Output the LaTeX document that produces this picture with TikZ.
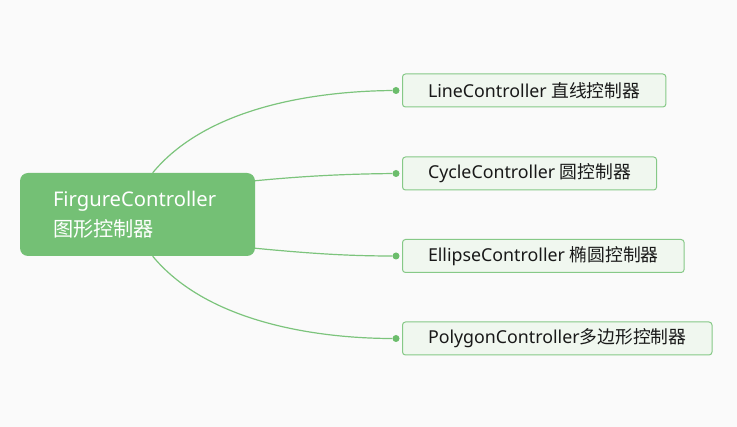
\documentclass[tikz,border=0pt]{standalone}
\usepackage{fontspec}
\setmainfont{Noto Sans}
\newfontfamily\cjk{Noto Sans CJK SC}
\definecolor{bggray}{HTML}{FAFAFA}
\definecolor{rootgreen}{HTML}{74C075}
\definecolor{leafborder}{HTML}{86C987}
\definecolor{leaffill}{HTML}{F0F7EF}
\definecolor{linkgreen}{HTML}{7CC47C}
\definecolor{dotgreen}{HTML}{6CBD6C}
\begin{document}
\begin{tikzpicture}[
    x=1pt, y=-1pt,
    root/.style={fill=rootgreen, rounded corners=8pt, minimum width=235pt, minimum height=83pt,
      text width=169pt, inner xsep=33pt, inner ysep=0pt, align=left, text=white,
      font=\fontsize{20.2}{30}\selectfont},
    leaf/.style={draw=leafborder, fill=leaffill, rounded corners=3pt, line width=1pt,
      minimum height=33pt, inner xsep=25.5pt, anchor=west, text=black!90,
      font=\fontsize{17.8}{20}\selectfont},
    dot/.style={circle, fill=dotgreen, inner sep=0pt, minimum size=7pt},
    link/.style={draw=linkgreen, line width=1.2pt}
  ]
    \path[fill=bggray, use as bounding box] (0,0) rectangle (737,427);

    \node[root] (root) at (137.5,214.5) {FirgureController\\{\cjk 图形控制器}};

    \node[leaf] (line)    at (402,90.5)  {LineController {\cjk 直线控制器}};
    \node[leaf] (cycle)   at (402,173.5) {CycleController {\cjk 圆控制器}};
    \node[leaf] (ellipse) at (402,256)   {EllipseController {\cjk 椭圆控制器}};
    \node[leaf] (polygon) at (402,338.5) {PolygonController{\cjk 多边形控制器}};

    \node[dot] (dline)    at ([xshift=-6pt]line.west)    {};
    \node[dot] (dcycle)   at ([xshift=-6pt]cycle.west)   {};
    \node[dot] (dellipse) at ([xshift=-6pt]ellipse.west) {};
    \node[dot] (dpolygon) at ([xshift=-6pt]polygon.west) {};

    \draw[link] (root.70)  .. controls (212,101) and (333,91) .. (dline);
    \draw[link] (root.16)  .. controls (305,176) and (345,174) .. (dcycle);
    \draw[link] (root.-16) .. controls (305,253) and (345,256) .. (dellipse);
    \draw[link] (root.-70) .. controls (212,328) and (333,338.5) .. (dpolygon);
  \end{tikzpicture}
\end{document}
